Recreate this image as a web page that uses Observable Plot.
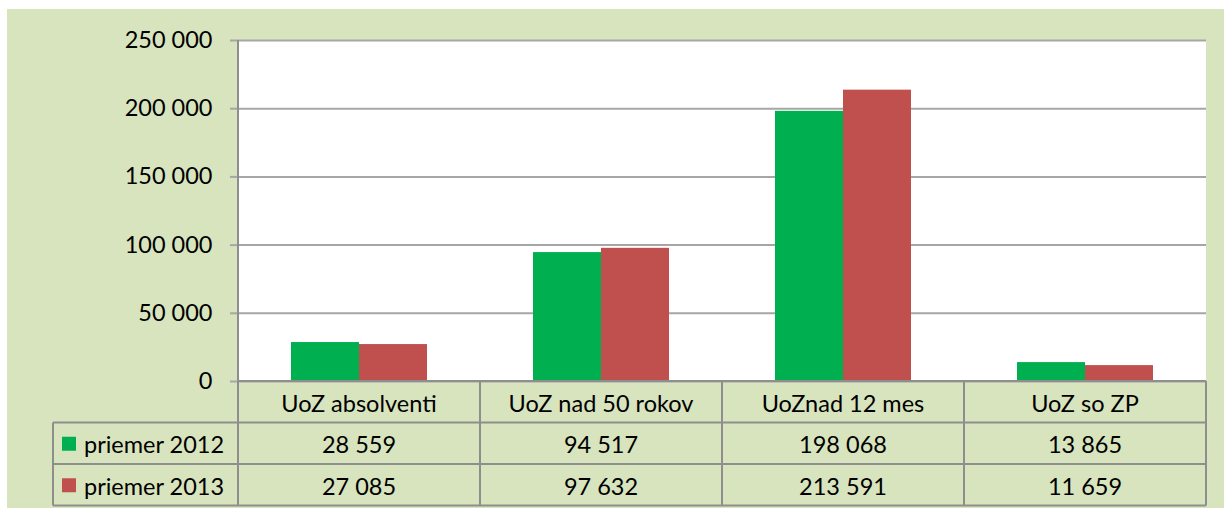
<!DOCTYPE html>
<html>
<head>
<meta charset="utf-8">
<script src="https://cdn.jsdelivr.net/npm/d3@7"></script>
<script src="https://cdn.jsdelivr.net/npm/@observablehq/plot@0.6"></script>
<style>
  html, body { margin: 0; padding: 0; background: #ffffff; }
  #chart { position: absolute; left: 7px; top: 9px; width: 1217px; height: 499px; background: #d7e4bd; }
  #chart svg { display: block; }
</style>
</head>
<body>
<div id="chart"></div>
<script>
const categories = ["UoZ absolventi", "UoZ nad 50 rokov", "UoZnad 12 mes", "UoZ so ZP"];
const series = ["priemer 2012", "priemer 2013"];
const values2012 = [28559, 94517, 198068, 13865];
const values2013 = [27085, 97632, 213591, 11659];
const seriesValues = [values2012, values2013];
const seriesColors = ["#00b050", "#c0504d"];
const yTicks = [0, 50000, 100000, 150000, 200000, 250000];

const data = series.flatMap((s, si) => categories.map((c, ci) => ({category: c, series: s, value: seriesValues[si][ci]})));
const fmt = d => d3.format(",")(d).replace(/,/g, " ");

const FONT = "Lato, 'Open Sans', sans-serif";
const FS = 23.5;
const LINE = "#8e8e8e";

const plot = Plot.plot({
  width: 1217,
  height: 499,
  marginTop: 31,
  marginLeft: 230,
  marginRight: 17,
  marginBottom: 127,
  style: {background: "transparent", fontFamily: FONT, fontSize: FS + "px", color: "#000"},
  fx: {domain: categories, padding: 0, axis: null},
  x: {domain: series, paddingInner: 0, paddingOuter: 0.757, axis: null},
  y: {domain: [0, 250000], axis: null},
  color: {domain: series, range: seriesColors},
  marks: [
    Plot.ruleY(yTicks, {stroke: "#a6a6a6", strokeWidth: 2}),
    Plot.barY(data, {fx: "category", x: "series", y: "value", fill: "series"}),
    Plot.axisY({ticks: yTicks, tickSize: 8, tickPadding: 18, tickFormat: fmt, label: null, stroke: "#a6a6a6", strokeWidth: 2, fill: "#000", fontSize: FS})
  ]
});
document.getElementById("chart").appendChild(plot);

// data table below the chart, positioned with the plot's scales
const fx = plot.scale("fx");
const ys = plot.scale("y");
const bw = fx.bandwidth;
const svg = d3.select(plot);
const y0 = ys.apply(0);
const yTop = ys.apply(250000);
const rowH = 41.5;
const rows = [y0, y0 + rowH, y0 + 2 * rowH, y0 + 3 * rowH];
const xLeft = fx.apply(categories[0]);
const xRight = fx.apply(categories[categories.length - 1]) + bw;
const xLabel = 46;

// white plot area behind the marks
svg.insert("rect", ":first-child")
  .attr("x", xLeft).attr("y", yTop).attr("width", xRight - xLeft).attr("height", y0 - yTop).attr("fill", "#ffffff");

const g = svg.append("g").attr("font-family", FONT).attr("font-size", FS).attr("fill", "#000");

// horizontal lines
g.append("line").attr("x1", xLeft).attr("x2", xRight).attr("y1", rows[0]).attr("y2", rows[0]).attr("stroke", LINE).attr("stroke-width", 2);
for (let i = 1; i < rows.length; i++) {
  g.append("line").attr("x1", xLabel).attr("x2", xRight).attr("y1", rows[i]).attr("y2", rows[i]).attr("stroke", LINE).attr("stroke-width", 2);
}
// vertical lines
g.append("line").attr("x1", xLeft).attr("x2", xLeft).attr("y1", yTop).attr("y2", rows[3]).attr("stroke", LINE).attr("stroke-width", 2);
g.append("line").attr("x1", xLabel).attr("x2", xLabel).attr("y1", rows[1]).attr("y2", rows[3]).attr("stroke", LINE).attr("stroke-width", 2);
categories.forEach(c => {
  const xr = fx.apply(c) + bw;
  g.append("line").attr("x1", xr).attr("x2", xr).attr("y1", rows[0]).attr("y2", rows[3]).attr("stroke", LINE).attr("stroke-width", 2);
});
// header
categories.forEach(c => {
  g.append("text").attr("x", fx.apply(c) + bw / 2).attr("y", (rows[0] + rows[1]) / 2 + 1)
    .attr("text-anchor", "middle").attr("dominant-baseline", "central").text(c);
});
// series rows
series.forEach((s, si) => {
  const yc = (rows[si + 1] + rows[si + 2]) / 2 + 1;
  g.append("rect").attr("x", 55).attr("y", yc - 7.5).attr("width", 14).attr("height", 14).attr("fill", seriesColors[si]);
  g.append("text").attr("x", 77).attr("y", yc).attr("text-anchor", "start").attr("dominant-baseline", "central").text(s);
  categories.forEach((c, ci) => {
    g.append("text").attr("x", fx.apply(c) + bw / 2).attr("y", yc)
      .attr("text-anchor", "middle").attr("dominant-baseline", "central").text(fmt(seriesValues[si][ci]));
  });
});
</script>
</body>
</html>
